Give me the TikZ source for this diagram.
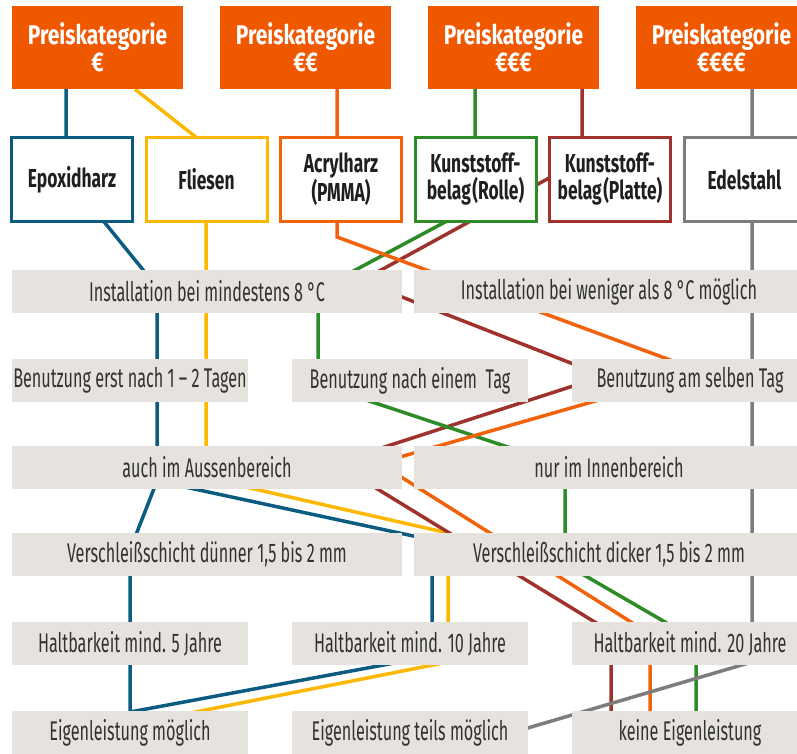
\documentclass[tikz,border=0pt]{standalone}
\usepackage{fontspec}
\setmainfont{Fira Sans}[FakeStretch=0.6]
\newfontfamily\kopffont{Fira Sans}[FakeStretch=0.78]
\newfontfamily\matfont{Fira Sans}[FakeStretch=0.67]
\usetikzlibrary{positioning}

\pgfdeclarelayer{bg}
\pgfsetlayers{bg,main}

\definecolor{preis}{RGB}{240,88,0}
\definecolor{epoxi}{RGB}{12,92,130}
\definecolor{fliese}{RGB}{252,184,0}
\definecolor{acryl}{RGB}{242,98,10}
\definecolor{rolle}{RGB}{45,140,40}
\definecolor{platte}{RGB}{160,50,45}
\definecolor{stahl}{RGB}{125,125,125}
\definecolor{feld}{RGB}{230,227,223}
\definecolor{schrift}{RGB}{50,50,50}

\tikzset{
  preisbox/.style={fill=preis, text=white, minimum width=171, minimum height=83,
    inner sep=0, align=center, font=\kopffont\bfseries\fontsize{27}{27}\selectfont},
  matbox/.style={draw=#1, line width=3, fill=white, minimum width=121, minimum height=84,
    inner sep=0, align=center, text=black!88, font=\matfont\bfseries\fontsize{26}{27}\selectfont},
  feldbox/.style={fill=feld, minimum height=43, inner sep=0, text=schrift,
    font=\fontsize{27}{28}\selectfont},
  breit/.style={feldbox, minimum width=390},
  schmal/.style={feldbox, minimum width=236},
  linie/.style={line width=3.5, draw=#1}
}

\begin{document}
\begin{tikzpicture}[x=1pt,y=-1pt]
  \useasboundingbox (0,0) rectangle (797,754);
  \def\dx{208} % pitch of the price boxes
  \def\mx{134.5} % pitch of the material boxes
  % price categories
  \node[preisbox] (p1) at (97.5,47.5) {Preiskategorie\\€};
  \node[preisbox] (p2) at (97.5+\dx,47.5) {Preiskategorie\\€€};
  \node[preisbox] (p3) at (97.5+2*\dx,47.5) {Preiskategorie\\€€€};
  \node[preisbox] (p4) at (97.5+3*\dx,47.5) {Preiskategorie\\€€€€};
  % materials
  \node[matbox=epoxi] (epoxi) at (72,179.5) {Epoxidharz};
  \node[matbox=fliese] (fliesen) at (72+\mx,179.5) {Fliesen};
  \node[matbox=acryl] (acryl) at (72+2*\mx,179.5) {Acrylharz\\(PMMA)};
  \node[matbox=rolle] (rolle) at (72+3*\mx,179.5) {Kunststoff-\\belag\hspace{1.5pt}(Rolle)};
  \node[matbox=platte] (platte) at (72+4*\mx,179.5) {Kunststoff-\\belag\hspace{1.5pt}(Platte)};
  \node[matbox=stahl] (stahl) at (72+5*\mx,179.5) {Edelstahl};
  % properties
  \node[breit] (inst8) at (207,291.5) {Installation bei mindestens 8 °C};
  \node[breit] (instw) at (609,291.5) {Installation bei weniger als 8 °C möglich};
  \node[schmal] (ben12) at (130,380.5) {Benutzung erst nach 1 – 2 Tagen};
  \node[schmal] (ben1) at (410,380.5) {Benutzung nach einem~ Tag};
  \node[schmal] (ben0) at (690,380.5) {Benutzung am selben Tag};
  \node[breit] (aussen) at (207,467) {auch im Aussenbereich};
  \node[breit] (innen) at (609,467) {nur im Innenbereich};
  \node[breit] (duenn) at (207,554.5) {Verschleißschicht dünner 1,5 bis 2 mm};
  \node[breit] (dick) at (609,554.5) {Verschleißschicht dicker 1,5 bis 2 mm};
  \node[schmal] (halt5) at (130,643.5) {Haltbarkeit mind. 5 Jahre};
  \node[schmal] (halt10) at (410,643.5) {Haltbarkeit mind. 10 Jahre};
  \node[schmal] (halt20) at (690,643.5) {Haltbarkeit mind. 20 Jahre};
  \node[schmal] (eigen) at (130,732.5) {Eigenleistung möglich};
  \node[schmal] (teils) at (410,732.5) {Eigenleistung teils möglich};
  \node[schmal] (keine) at (690,732.5) {keine Eigenleistung};

  % routes, behind the boxes
  \begin{pgfonlayer}{bg}
    \draw[linie=epoxi] ([xshift=-31.5]p1.south) -- (66,175) -- (157,287) -- (157,481)
      -- (130,550) -- (130,712) -- (432,656) -- (432,540) -- (157,481);
    \draw[linie=fliese] ([xshift=37.5]p1.south) -- (206,145) -- (206,478) -- (448,533)
      -- (448,662) -- (160,719);
    \draw[linie=platte] ([xshift=68.5]p3.south) -- (582,160) -- (361,281)
      -- (604,376) -- (335,463) -- (611,632) -- (611,740);
    \draw[linie=rolle] ([xshift=-38.5]p3.south) -- (475,206) -- (318,290) -- (318,384)
      -- (565,466) -- (565,564) -- (696,640) -- (696,740);
    \draw[linie=acryl] ([xshift=31.5]p2.south) -- (337,237) -- (700,371) -- (379,463)
      -- (650,634) -- (650,740);
    \draw[linie=stahl] ([xshift=30.5]p4.south) -- (752,662) -- (470,745);
  \end{pgfonlayer}
\end{tikzpicture}
\end{document}
